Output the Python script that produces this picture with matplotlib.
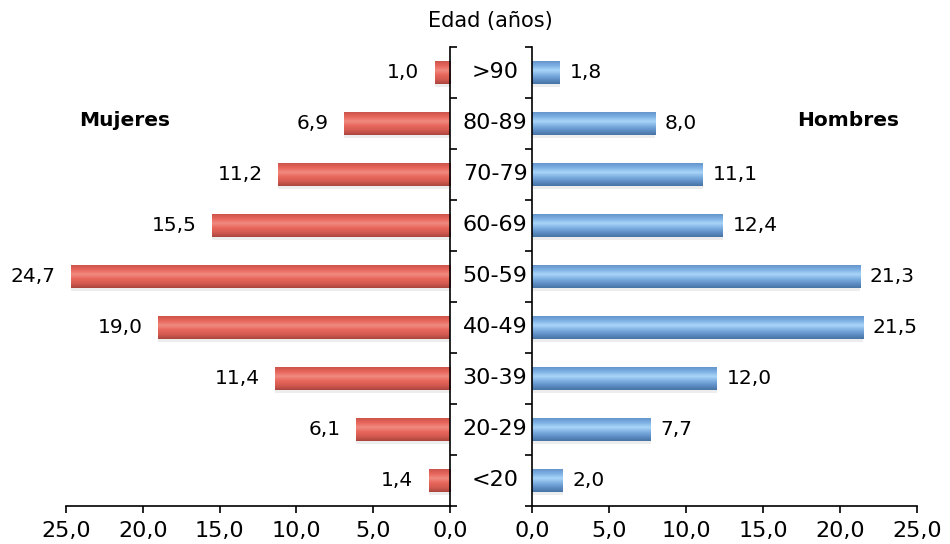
import numpy as np
import matplotlib
matplotlib.use('Agg')
import matplotlib.pyplot as plt
from matplotlib.colors import LinearSegmentedColormap

plt.rcParams['font.family'] = ['DejaVu Sans']

ages = ['>90', '80-89', '70-79', '60-69', '50-59', '40-49', '30-39', '20-29', '<20']
mujeres = [1.0, 6.9, 11.2, 15.5, 24.7, 19.0, 11.4, 6.1, 1.4]
hombres = [1.8, 8.0, 11.1, 12.4, 21.3, 21.5, 12.0, 7.7, 2.0]
ticks = [0, 5, 10, 15, 20, 25]

red_cmap = LinearSegmentedColormap.from_list(
    'r', ['#a9463e', '#d45a50', '#e8665c', '#f08a80', '#e8665c', '#cc544a'])
blue_cmap = LinearSegmentedColormap.from_list(
    'b', ['#4874a4', '#5f8fc6', '#7fb0e2', '#a9d5f8', '#7eb1e4', '#6596cc'])

def fmt(v):
    return f'{v:.1f}'.replace('.', ',')

fig = plt.figure(figsize=(9.5, 5.44), dpi=100)
ax_l = fig.add_axes([0.0695, 0.0699, 0.4042, 0.8438])
ax_r = fig.add_axes([0.56, 0.0699, 0.4053, 0.8438])

y = np.arange(len(ages))
h = 0.44
grad = np.linspace(0, 1, 64).reshape(-1, 1)

for ax, vals, cmap, side in [(ax_l, mujeres, red_cmap, -1), (ax_r, hombres, blue_cmap, 1)]:
    bars = ax.barh(y, vals, height=h, color='none', edgecolor='none')
    for b, v in zip(bars, vals):
        x0, y0, w, hh = b.get_x(), b.get_y(), b.get_width(), b.get_height()
        im = ax.imshow(grad, cmap=cmap, aspect='auto', origin='lower',
                       extent=[x0, x0 + w, y0 + hh, y0], zorder=2)
        im.set_clip_path(b)
        # soft shadow under the bar
        ax.barh(y0 + hh / 2 + 0.06, w, height=hh, color='#cccccc', alpha=0.35, zorder=1)
        if side == -1:
            ax.annotate(fmt(v), (v, y0 + hh / 2), xytext=(-11, 0), textcoords='offset points',
                        ha='right', va='center', fontsize=14.5)
        else:
            ax.annotate(fmt(v), (v, y0 + hh / 2), xytext=(7, 0), textcoords='offset points',
                        ha='left', va='center', fontsize=14.5)
    ax.set_xlim(0, 25)
    ax.set_ylim(len(ages) - 0.5, -0.5)
    ax.set_xticks(ticks)
    ax.set_xticklabels([fmt(t) for t in ticks], fontsize=16)
    ax.set_yticks(np.arange(-0.5, len(ages), 1))
    ax.set_yticklabels([])
    ax.tick_params(axis='both', length=5, width=1.2, color='black')
    ax.tick_params(axis='x', pad=6)
    ax.spines['top'].set_visible(False)
    for s in ax.spines.values():
        s.set_linewidth(1.2)

ax_l.invert_xaxis()
ax_l.spines['left'].set_visible(False)
ax_l.yaxis.tick_right()
ax_r.spines['right'].set_visible(False)

for i, a in enumerate(ages):
    ax_r.text(-0.096, i, a, transform=ax_r.get_yaxis_transform(), ha='center', va='center', fontsize=16)

fig.text(0.516, 0.962, 'Edad (años)', ha='center', va='center', fontsize=15)
fig.text(0.131, 0.779, 'Mujeres', ha='center', va='center', fontsize=14.5, fontweight='bold')
fig.text(0.893, 0.779, 'Hombres', ha='center', va='center', fontsize=14.5, fontweight='bold')

fig.savefig('out.png', dpi=100)
